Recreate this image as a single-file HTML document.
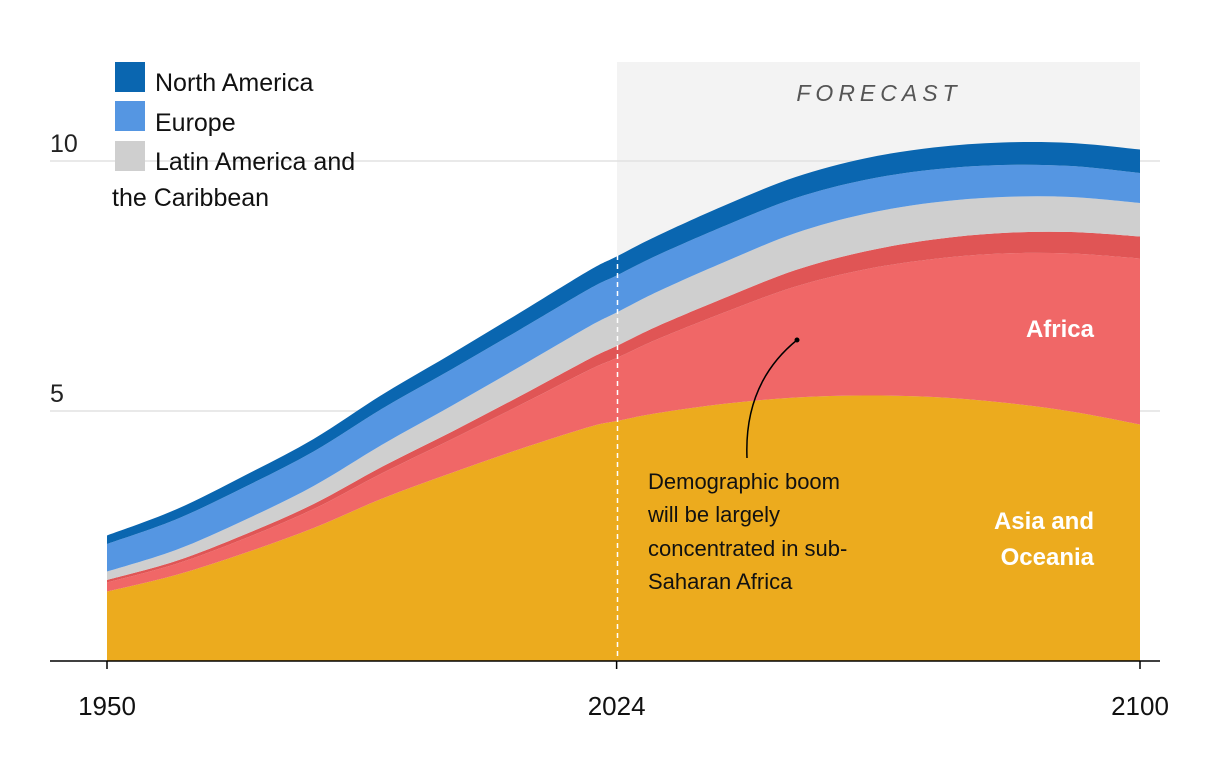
<!DOCTYPE html>
<html><head><meta charset="utf-8"><style>
html,body{margin:0;padding:0;background:#fff;}
svg{display:block;font-family:"Liberation Sans",sans-serif;}
</style></head><body>
<svg id="chart" width="1220" height="770" viewBox="0 0 1220 770">
<rect x="617" y="62" width="523" height="599" fill="#f3f3f3"/>
<text x="879" y="101" text-anchor="middle" font-size="23" font-style="italic" letter-spacing="5" fill="#555">FORECAST</text>
<line x1="50" y1="411" x2="1160" y2="411" stroke="#e2e2e2" stroke-width="1.5"/>
<line x1="50" y1="161" x2="1160" y2="161" stroke="#e2e2e2" stroke-width="1.5"/>
<g id="areas"></g>
<line x1="617.5" y1="255" x2="617.5" y2="661" stroke="#fff" stroke-width="1.5" stroke-dasharray="5,4"/>
<line x1="50" y1="661" x2="1160" y2="661" stroke="#000" stroke-width="1.5"/>
<g id="xticks"></g>
<text x="50" y="152" font-size="25" fill="#222">10</text>
<text x="50" y="402" font-size="25" fill="#222">5</text>
<g>
<rect x="115" y="62" width="30" height="30" fill="#0a66b0"/>
<text x="155" y="91" font-size="25" fill="#111">North America</text>
<rect x="115" y="101" width="30" height="30" fill="#5596e2"/>
<text x="155" y="131" font-size="25" fill="#111">Europe</text>
<rect x="115" y="141" width="30" height="30" fill="#cfcfcf"/>
<text x="155" y="170" font-size="25" fill="#111">Latin America and</text>
<text x="112" y="206" font-size="25" fill="#111">the Caribbean</text>
</g>
<text x="1094" y="337" text-anchor="end" font-size="24" font-weight="bold" fill="#fff">Africa</text>
<text x="1094" y="529" text-anchor="end" font-size="24" font-weight="bold" fill="#fff">Asia and</text>
<text x="1094" y="565" text-anchor="end" font-size="24" font-weight="bold" fill="#fff">Oceania</text>
<g>
<path d="M747,458 C745,410 760,370 797,340" fill="none" stroke="#000" stroke-width="1.5"/>
<circle cx="797" cy="340" r="2.5" fill="#000"/>
<text font-size="22" fill="#111"><tspan x="648" y="489">Demographic boom</tspan><tspan x="648" y="522">will be largely</tspan><tspan x="648" y="556">concentrated in sub-</tspan><tspan x="648" y="589">Saharan Africa</tspan></text>
</g>
</svg>
<script>
const years=[1950,1960,1970,1980,1990,2000,2010,2020,2024,2030,2040,2050,2060,2070,2080,2090,2100];
const asia=[1.39,1.72,2.16,2.66,3.25,3.76,4.24,4.68,4.80,4.96,5.15,5.27,5.31,5.28,5.17,4.99,4.73];
const subSaharan=[0.18,0.22,0.29,0.38,0.51,0.67,0.88,1.14,1.26,1.48,1.84,2.22,2.52,2.76,2.98,3.16,3.32];
const northAfrica=[0.05,0.06,0.08,0.10,0.13,0.15,0.18,0.22,0.24,0.26,0.29,0.33,0.36,0.39,0.41,0.43,0.44];
const latam=[0.17,0.22,0.29,0.36,0.44,0.52,0.59,0.65,0.67,0.69,0.72,0.74,0.75,0.74,0.72,0.70,0.67];
const europe=[0.55,0.61,0.66,0.69,0.72,0.73,0.74,0.75,0.74,0.73,0.72,0.70,0.68,0.66,0.64,0.62,0.60];
const northAmerica=[0.17,0.20,0.23,0.25,0.28,0.31,0.34,0.37,0.38,0.39,0.41,0.42,0.43,0.44,0.45,0.46,0.47];
const xTickYears=[1950,2024,2100];
const NS="http://www.w3.org/2000/svg";
const X=y=>107+(y-1950)*(1140-107)/150;
const Y=v=>661-v*50;
const series=[[asia,'#ecab1e','area-asia-oceania'],[subSaharan,'#f06767','area-sub-saharan-africa'],[northAfrica,'#e05555','area-north-africa'],[latam,'#cfcfcf','area-latin-america'],[europe,'#5596e2','area-europe'],[northAmerica,'#0a66b0','area-north-america']];
function smooth(pts){let d='';for(let i=0;i<pts.length-1;i++){const p0=pts[Math.max(i-1,0)],p1=pts[i],p2=pts[i+1],p3=pts[Math.min(i+2,pts.length-1)];const c1=[p1[0]+(p2[0]-p0[0])/6,p1[1]+(p2[1]-p0[1])/6],c2=[p2[0]-(p3[0]-p1[0])/6,p2[1]-(p3[1]-p1[1])/6];d+=` C${c1[0]},${c1[1]} ${c2[0]},${c2[1]} ${p2[0]},${p2[1]}`;}return d;}
let base=years.map(()=>0);
const g=document.getElementById('areas');
series.forEach(([vals,col,name])=>{
 const top=base.map((b,i)=>b+vals[i]);
 const tp=years.map((y,i)=>[X(y),Y(top[i])]);
 const bp=years.map((y,i)=>[X(y),Y(base[i])]).reverse();
 const d=`M${tp[0][0]},${tp[0][1]}`+smooth(tp)+` L${bp[0][0]},${bp[0][1]}`+smooth(bp)+'Z';
 const p=document.createElementNS(NS,'path');
 p.setAttribute('d',d);p.setAttribute('fill',col);
 
 
 g.appendChild(p);base=top;
});
const xt=document.getElementById('xticks');
xTickYears.forEach(y=>{
 const l=document.createElementNS(NS,'line');
 l.setAttribute('x1',X(y));l.setAttribute('x2',X(y));l.setAttribute('y1',661);l.setAttribute('y2',669);l.setAttribute('stroke','#000');l.setAttribute('stroke-width','1.5');
 
 
 xt.appendChild(l);
 const t=document.createElementNS(NS,'text');
 t.setAttribute('x',X(y));t.setAttribute('y',715);t.setAttribute('text-anchor','middle');t.setAttribute('font-size','26');t.setAttribute('fill','#111');
 t.textContent=y;
 
 
 xt.appendChild(t);
});
</script>
</body></html>
